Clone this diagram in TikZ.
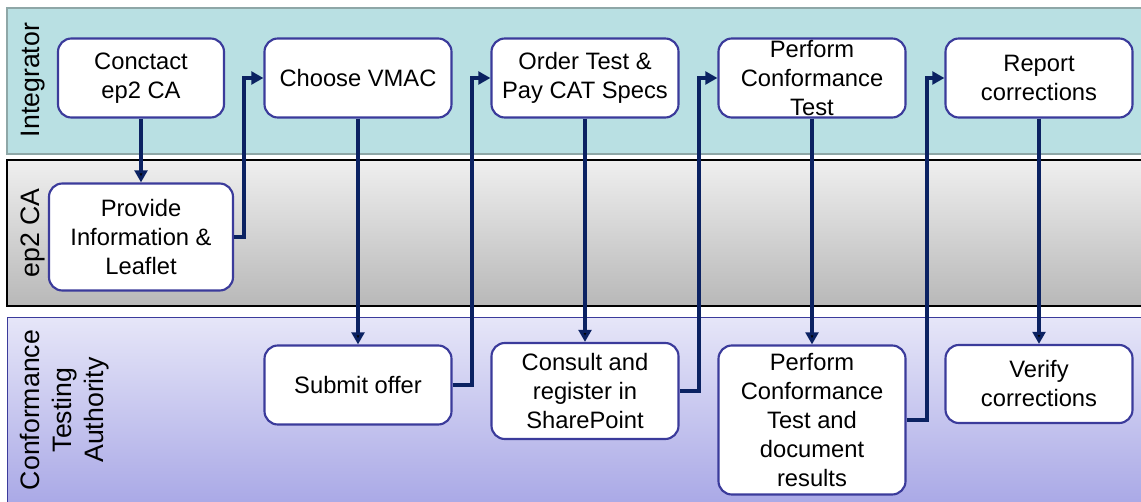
\documentclass[tikz,border=0pt]{standalone}
\usepackage{fontspec}
\setmainfont{Liberation Sans}
\usetikzlibrary{positioning,arrows.meta}

\definecolor{laneteal}{HTML}{B9E0E3}
\definecolor{laneedge}{HTML}{8EA7A7}
\definecolor{greytop}{HTML}{EFEFEF}
\definecolor{greybottom}{HTML}{B8B8B8}
\definecolor{lilactop}{HTML}{E6E6F8}
\definecolor{lilacbottom}{HTML}{A9A8E6}
\definecolor{boxedge}{HTML}{3B3B9B}
\definecolor{flow}{HTML}{0B2262}

\begin{document}
\begin{tikzpicture}[x=0.75pt,y=-0.75pt,->,>={Triangle[length=9pt,width=9.5pt]},node distance=170.25pt,
    task/.style={rectangle,rounded corners=10pt,draw=boxedge,line width=1.6pt,fill=white,align=center,inner sep=0pt,
        minimum width=140.25pt,minimum height=59.25pt,font=\fontsize{17.8}{21.75}\selectfont},
    lanename/.style={rotate=90,align=center,font=\fontsize{20}{24}\selectfont},
    link/.style={draw=flow,line width=3.1pt,line join=miter}]

            \clip (0,0) rectangle (1141,502);

            % swim lanes
            \fill[white] (0,0) rectangle (1141,502);
            \draw[-,fill=laneteal,draw=laneedge,line width=1.5pt] (7,8) rectangle (1160,154);
            \draw[-,top color=greytop,bottom color=greybottom,draw=black,line width=1pt] (7,160) rectangle (1160,306);
            \draw[-,top color=lilactop,bottom color=lilacbottom,draw=boxedge,line width=0.75pt] (7,317) rectangle (1160,506);

            \node[lanename] (integrator) at (33,80) {Integrator};
            \node[lanename] (ep2ca) at (33,233) {ep2 CA};
            \node[lanename] (cta) at (65,410) {Conformance\\Testing\\Authority};

            % top row
            \node[task, minimum width=124.5pt] (contact) at (141,78) {Conctact\\ep2 CA};
            \node[task] (vmac) [right of=contact, xshift=-7.5pt] {Choose VMAC};
            \node[task] (order) [right of=vmac] {Order Test \&\\Pay CAT Specs};
            \node[task] (perform) [right of=order] {Perform\\Conformance\\Test};
            \node[task] (report) [right of=perform] {Report\\corrections};

            % lower rows
            \node[task, minimum width=138pt, minimum height=80.25pt] (provide) [below of=contact, yshift=51pt] {Provide\\Information \&\\Leaflet};
            \node[task] (offer) [below of=vmac, yshift=-60pt] {Submit offer};
            \node[task, minimum height=72pt] (consult) [below of=order, yshift=-64.5pt] {Consult and\\register in\\SharePoint};
            \node[task, minimum height=111.75pt] (document) [below of=perform, yshift=-86.25pt] {Perform\\Conformance\\Test and\\document\\results};
            \node[task, minimum height=58.5pt] (verify) [below of=report, yshift=-59.25pt] {Verify\\corrections};

            \path[link]
                (contact) edge (provide)
                (vmac) edge (offer)
                (order) edge (consult)
                (perform) edge (document)
                (report) edge (verify);

            \draw[link] (provide.east) -- ++(10,0) |- (vmac.west);
            \draw[link] (offer.east) -- ++(19,0) |- (order.west);
            \draw[link] (consult.east) -- ++(19,0) |- (perform.west);
            \draw[link] (document.east) -- ++(20,0) |- (report.west);
        \end{tikzpicture}
\end{document}
